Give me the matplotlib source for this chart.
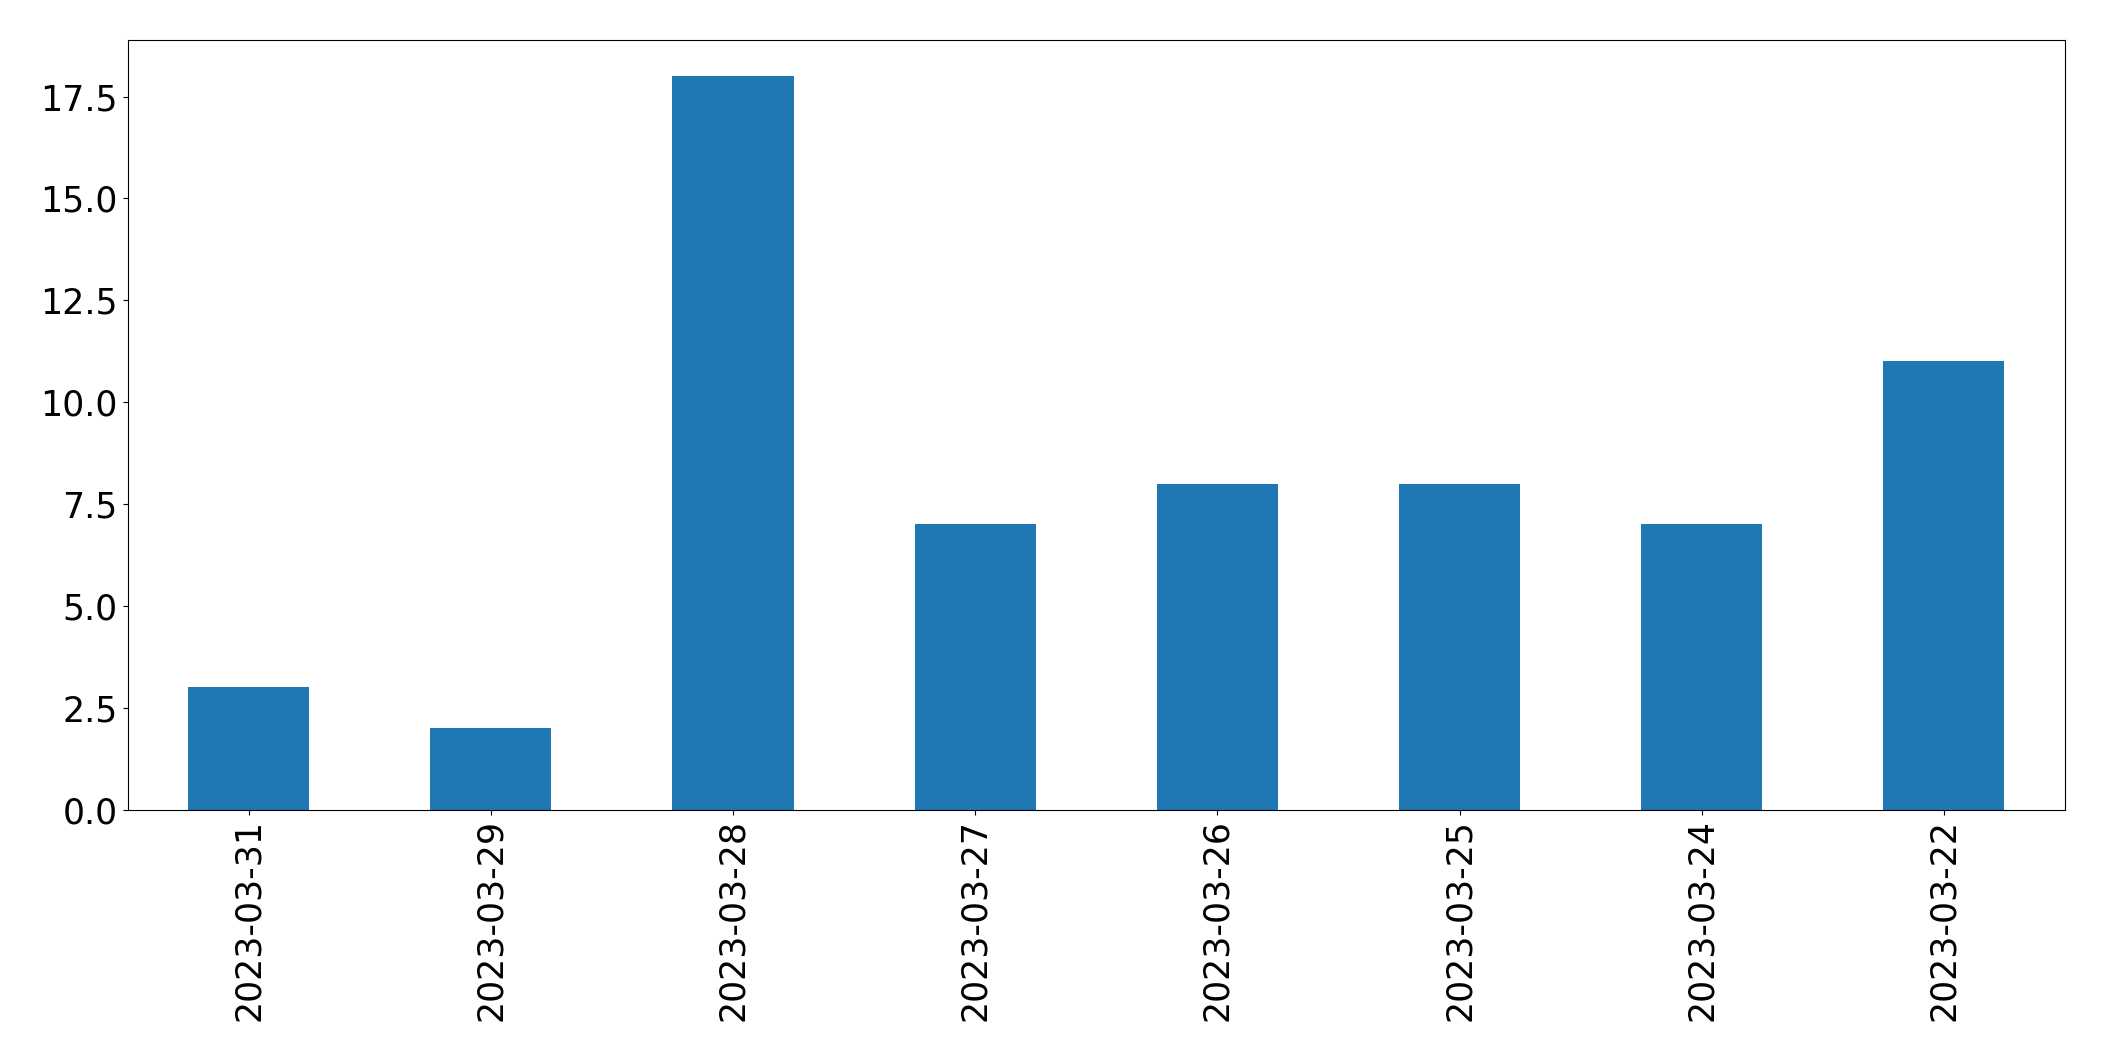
import matplotlib
matplotlib.use("Agg")
import matplotlib.pyplot as plt
import pandas as pd

# dates (index) and counts, in the order shown
dates = ["2023-03-31", "2023-03-29", "2023-03-28", "2023-03-27",
         "2023-03-26", "2023-03-25", "2023-03-24", "2023-03-22"]
counts = [3, 2, 18, 7, 8, 8, 7, 11]

s = pd.Series(counts, index=dates)

fig, ax = plt.subplots(figsize=(21.04, 10.61), dpi=100)
s.plot.bar(ax=ax, color="#1f77b4")
ax.tick_params(axis="both", labelsize=25)
fig.subplots_adjust(left=127.5 / 2104, right=2065 / 2104,
                    top=1 - 39.5 / 1061, bottom=1 - 809.5 / 1061)
fig.savefig("out.png", dpi=100)
